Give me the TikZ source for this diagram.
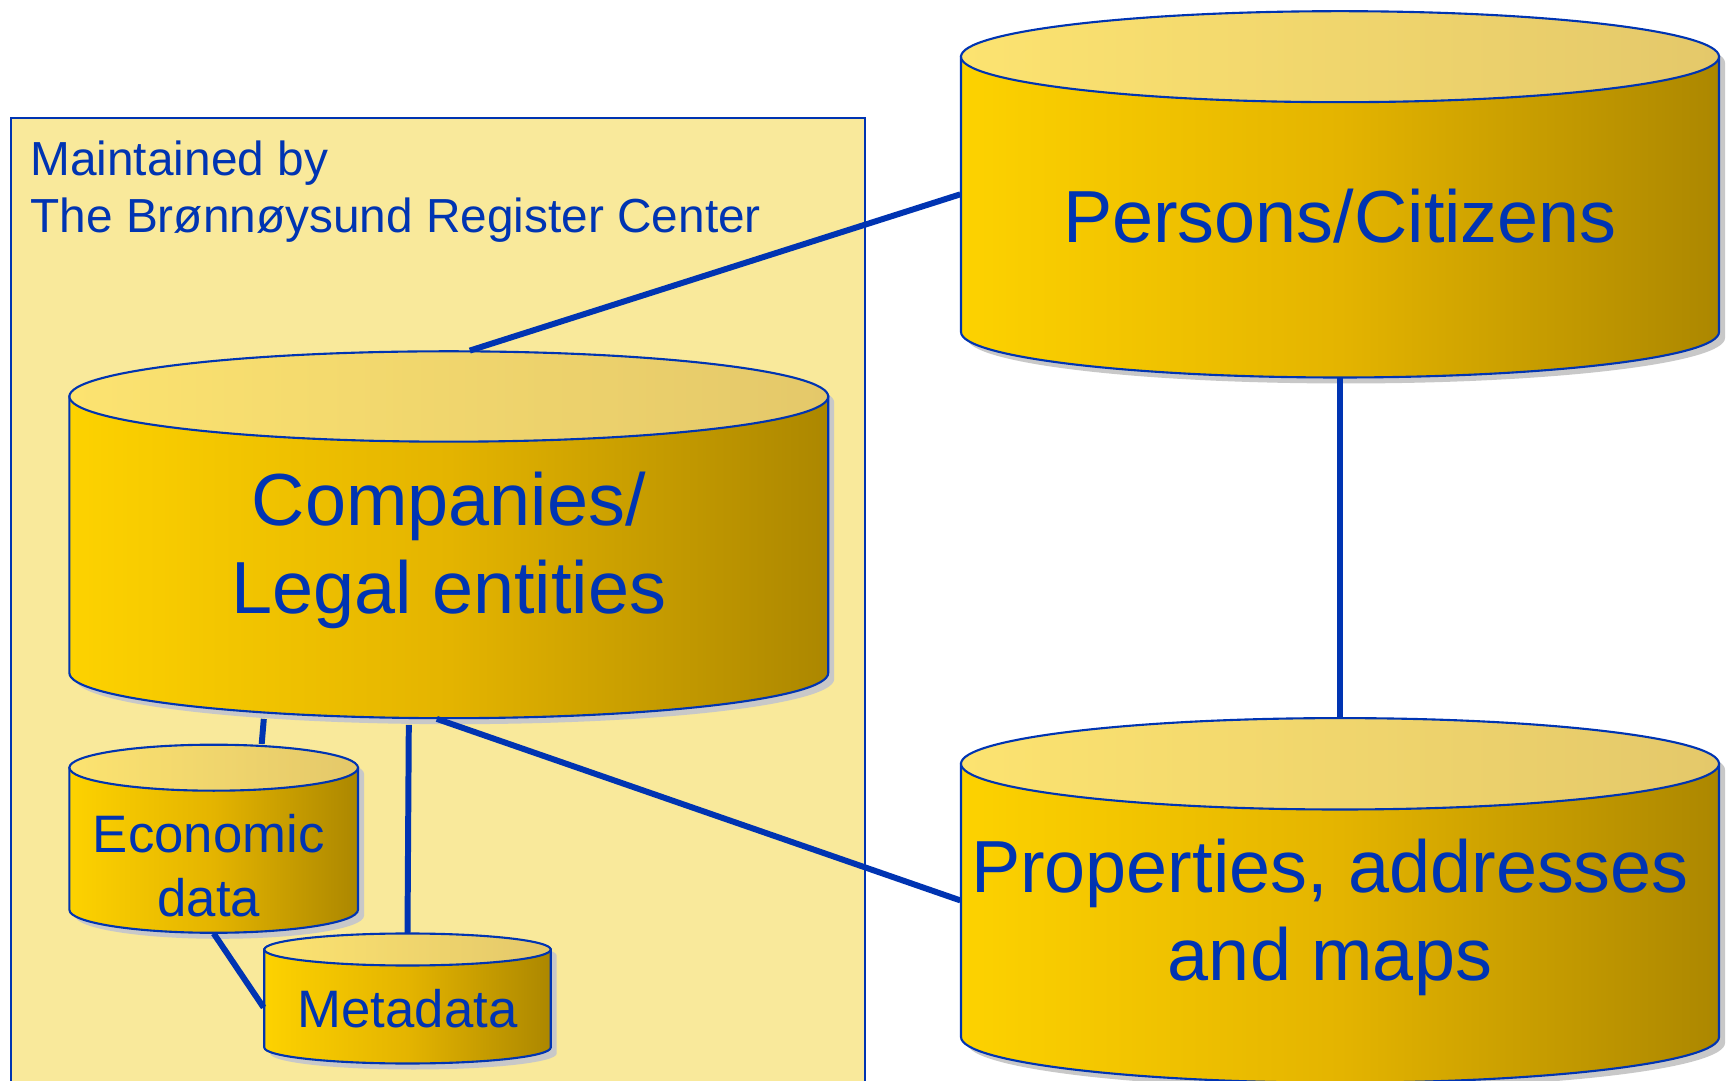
\documentclass[tikz,border=0pt]{standalone}
\usepackage{fontspec}
\setmainfont{Liberation Sans}
\usetikzlibrary{positioning}

\definecolor{regblue}{RGB}{0,52,178}
\definecolor{regbox}{RGB}{249,233,155}
\definecolor{drumleft}{RGB}{253,210,0}
\definecolor{drummid}{RGB}{228,180,0}
\definecolor{drumright}{RGB}{172,135,0}
\definecolor{lidleft}{RGB}{252,227,112}
\definecolor{lidright}{RGB}{228,200,106}
\definecolor{drumshade}{RGB}{200,200,200}

\tikzset{
  link/.style={draw=regblue, line width=1.7pt},
  drumbody/.style={draw=regblue, line width=0.6pt, left color=drumleft, right color=drumright, middle color=drummid},
  drumlid/.style={draw=regblue, line width=0.6pt, left color=lidleft, right color=lidright},
  drumlabel/.style={text=regblue, align=center, inner sep=0pt},
  bigtext/.style={drumlabel, font=\fontsize{21}{25}\selectfont},
  smalltext/.style={drumlabel, font=\fontsize{15}{18}\selectfont},
}

% #1 name, #2 centre x, #3 lid centre y, #4 base centre y, #5 x radius, #6 y radius
\newcommand{\drum}[6]{
  \fill[drumshade, shift={(0.06,-0.06)}] (#2-#5,#3) -- (#2-#5,#4)
    arc[start angle=180, end angle=360, x radius=#5cm, y radius=#6cm] -- (#2+#5,#3)
    arc[start angle=0, end angle=180, x radius=#5cm, y radius=#6cm] -- cycle;
  \path[drumbody] (#2-#5,#3) -- (#2-#5,#4)
    arc[start angle=180, end angle=360, x radius=#5cm, y radius=#6cm] -- (#2+#5,#3) -- cycle;
  \path[drumlid] (#2,#3) ellipse[x radius=#5cm, y radius=#6cm];
  \node[inner sep=0pt, minimum width={2*#5*1cm}, minimum height={((#3)-(#4)+2*(#6))*1cm}]
    (#1) at (#2,{((#3)+(#4))/2}) {};
}

\begin{document}
\begin{tikzpicture}
  \useasboundingbox (0,0) rectangle (17.27,-10.81);

  % Register frame
  \node[draw=regblue, line width=0.6pt, fill=regbox, inner sep=0pt, anchor=north west,
    minimum width=8.535cm, minimum height=10.2cm] (frame) at (0.10,-1.167) {};
  \node[text=regblue, align=left, inner sep=0pt, anchor=north west,
    font=\fontsize{13.6}{16.2}\selectfont] (maintained)
    at ([shift={(0.197,-0.233)}]frame.north west)
    {Maintained by\\The Brønnøysund Register Center};

  % Nodes
  \drum{pers}{13.40}{-0.567}{-3.32}{3.79}{0.455}
  \drum{comp}{4.488}{-3.965}{-6.73}{3.794}{0.452}
  \drum{prop}{13.40}{-7.638}{-10.37}{3.79}{0.457}
  \drum{econ}{2.137}{-7.677}{-9.098}{1.443}{0.23}
  \drum{meta}{4.075}{-9.495}{-10.475}{1.432}{0.16}

  \node[bigtext] (pers-txt) at ([yshift=-0.22cm]pers.center) {Persons/Citizens};
  \node[bigtext] (comp-txt) at ([yshift=-0.16cm]comp.center) {Companies/\\Legal entities};
  \node[bigtext] (prop-txt) at ([shift={(-0.1,-0.17)}]prop.center) {Properties, addresses\\and maps};
  \node[smalltext] (econ-txt) at ([shift={(-0.05,-0.27)}]econ.center) {Economic\\data};
  \node[smalltext] (meta-txt) at ([yshift=-0.10cm]meta.center) {Metadata};

  % Edges
  \draw[link] ([xshift=0.21cm]comp.north) -- (pers.west);
  \draw[link] (pers.south) -- (prop.north);
  \draw[link] ([xshift=-0.12cm]comp.south) -- (prop.west);
  \draw[link] ([xshift=-1.85cm]comp.south) -- ([xshift=0.48cm]econ.north);
  \draw[link] ([xshift=-0.40cm, yshift=-0.06cm]comp.south) -- (meta.north);
  \draw[link] (econ.south) -- ([yshift=-0.09cm]meta.west);
\end{tikzpicture}
\end{document}
